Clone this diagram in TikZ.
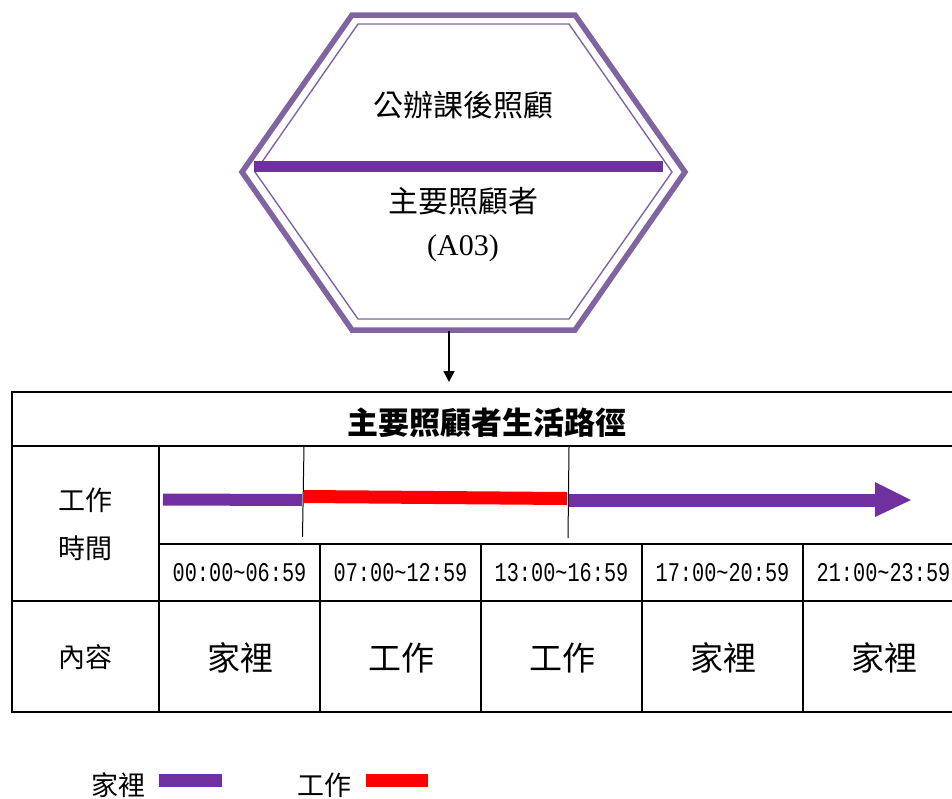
\documentclass[tikz,border=0pt]{standalone}
\usepackage{fontspec}
\setmainfont{Liberation Serif}
\newfontfamily\cjk{Noto Sans CJK TC}
\newfontfamily\timefont[FakeStretch=0.75]{Liberation Mono}
\usetikzlibrary{arrows.meta}
\definecolor{hexpurple}{HTML}{8064A2}
\definecolor{barpurple}{HTML}{7030A0}
\definecolor{barred}{HTML}{FF0000}
\begin{document}
\begin{tikzpicture}[x=1pt,y=-1pt,
  hexouter/.style={draw=hexpurple, line width=5.5pt, line join=miter},
  hexinner/.style={draw=hexpurple, line width=1.4pt, line join=miter},
  gridline/.style={draw=black, line width=1.8pt},
  marker/.style={draw=black, line width=1pt},
  hextext/.style={inner sep=0pt, font=\fontsize{30}{34}\selectfont},
  titletext/.style={inner sep=0pt, font=\cjk\bfseries\fontsize{31}{35}\selectfont},
  lbltext/.style={inner sep=0pt, font=\cjk\fontsize{27}{31}\selectfont},
  timetext/.style={inner sep=0pt, font=\timefont\fontsize{27}{31}\selectfont},
  celltext/.style={inner sep=0pt, font=\cjk\fontsize{33}{37}\selectfont},
  legtext/.style={inner sep=0pt, font=\cjk\fontsize{27}{31}\selectfont}
]
\useasboundingbox (0,0) rectangle (952,798);
\clip (0,0) rectangle (952,798);

% ---------- hexagon ----------
\coordinate (hA) at (352,15);
\coordinate (hB) at (575,15);
\coordinate (hC) at (685,172);
\coordinate (hD) at (575,330);
\coordinate (hE) at (352,330);
\coordinate (hF) at (242,172);
\draw[hexouter] (hA) -- (hB) -- (hC) -- (hD) -- (hE) -- (hF) -- cycle;
\coordinate (iA) at (358,24);
\coordinate (iB) at (569,24);
\coordinate (iC) at (672,172);
\coordinate (iD) at (569,319);
\coordinate (iE) at (358,319);
\coordinate (iF) at (255,172);
\draw[hexinner] (iA) -- (iB) -- (iC) -- (iD) -- (iE) -- (iF) -- cycle;
\coordinate (divL) at (254,166.5);
\coordinate (divR) at (663,166.5);
\draw[barpurple, line width=11pt] (divL) -- (divR);

\node[hextext] (hexT1) at (463,105) {\cjk 公辦課後照顧};
\node[hextext] (hexT2) at (463,201) {\cjk 主要照顧者};
\node[hextext] (hexT3) at (463,248) {(A03)};

% ---------- connector ----------
\coordinate (hexbot) at (449,331);
\coordinate (tabtop) at (449,382);
\draw[line width=1.6pt, -{Triangle[length=11pt,width=11pt]}] (hexbot) -- (tabtop);

% ---------- table ----------
\draw[gridline] (12,392) -- (960,392);
\draw[gridline] (12,391.1) -- (12,712.9);
\draw[gridline] (12,712) -- (960,712);
\draw[gridline] (12,446) -- (960,446);
\draw[gridline] (159,446) -- (159,712);
\draw[gridline] (159,544) -- (960,544);
\draw[gridline] (12,601) -- (960,601);
\foreach \x in {320,481,642,803} \draw[gridline] (\x,544) -- (\x,712);

\node[titletext] (title) at (487,423) {主要照顧者生活路徑};

\node[lbltext] (lblWork) at (85,500) {工作};
\node[lbltext] (lblTime) at (85,548) {時間};
\node[lbltext] (lblCont) at (85,657) {內容};

\node[timetext] (tm1) at (239.5,573) {00:00\char`\~06:59};
\node[timetext] (tm2) at (400.5,573) {07:00\char`\~12:59};
\node[timetext] (tm3) at (561.5,573) {13:00\char`\~16:59};
\node[timetext] (tm4) at (722.5,573) {17:00\char`\~20:59};
\node[timetext] (tm5) at (883.5,573) {21:00\char`\~23:59};

\node[celltext] (c1) at (240,658) {家裡};
\node[celltext] (c2) at (401,658) {工作};
\node[celltext] (c3) at (562,658) {工作};
\node[celltext] (c4) at (723,658) {家裡};
\node[celltext] (c5) at (884,658) {家裡};

% ---------- timeline ----------
\coordinate (p1s) at (163,499.5);
\coordinate (p1e) at (302,500);
\draw[barpurple, line width=12pt] (p1s) -- (p1e);
\coordinate (r1s) at (304,496.5);
\coordinate (r1e) at (567,498.5);
\draw[barred, line width=13pt] (r1s) -- (r1e);
\coordinate (p2s) at (569,500);
\coordinate (p2e) at (875,500);
\draw[barpurple, line width=13pt] (p2s) -- (p2e);
\coordinate (headT) at (875,482);
\coordinate (headP) at (911,500);
\coordinate (headB) at (875,517);
\fill[barpurple] (headT) -- (headP) -- (headB) -- cycle;
\coordinate (m1t) at (304,446);
\coordinate (m1b) at (302.5,537);
\draw[marker] (m1t) -- (m1b);
\coordinate (m2t) at (569,447);
\coordinate (m2b) at (568,538);
\draw[marker] (m2t) -- (m2b);

% ---------- legend ----------
\node[legtext] (leg1) at (118,785) {家裡};
\fill[barpurple] (159,774) rectangle (222,787);
\node[legtext] (leg2) at (324,785) {工作};
\fill[barred] (366,774) rectangle (428,787);
\end{tikzpicture}
\end{document}
